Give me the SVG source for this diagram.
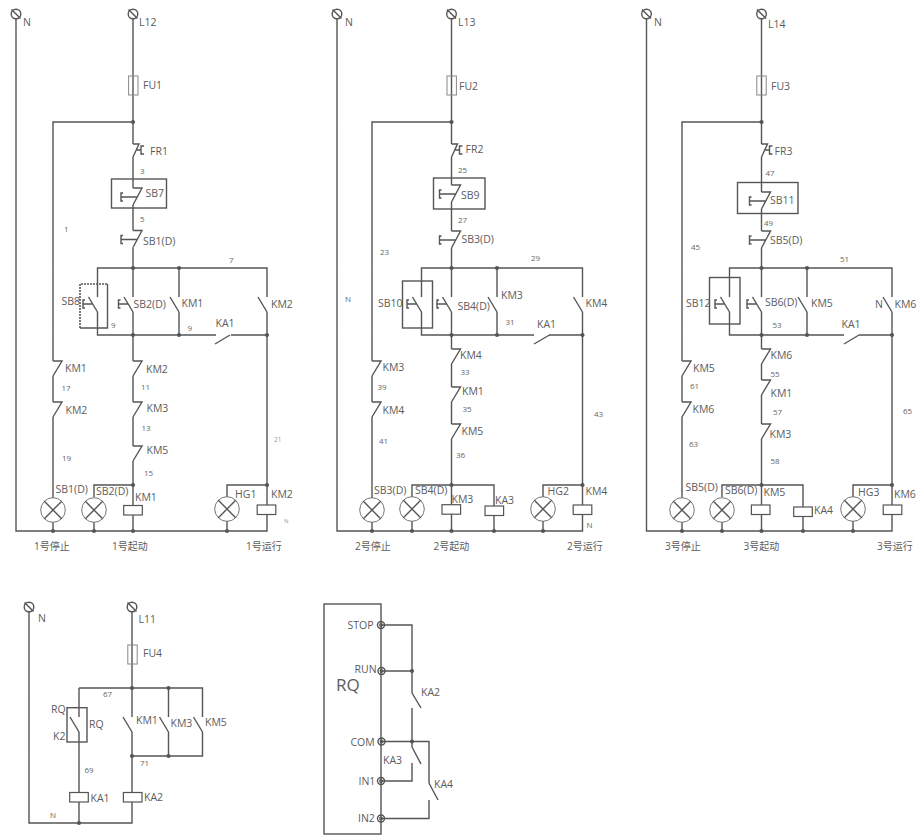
<svg xmlns="http://www.w3.org/2000/svg" width="919" height="837" viewBox="0 0 919 837">
<style>
text{font-family:"Open Sans","Noto Sans CJK SC",sans-serif;fill:#5c5c5c}
.t{font-size:10.5px}
.n{font-size:8px;fill:#666}
.b{font-size:17px}
.c{font-size:10px}
.w,.s{fill:none;stroke:#555;stroke-width:1.4}
.f{fill:none;stroke:#888;stroke-width:1}
.k{fill:none;stroke:#555;stroke-width:1.2}
.l{fill:none;stroke:#777;stroke-width:1}
.d{fill:#555;stroke:none}
.o{fill:none;stroke:#555;stroke-width:1.6;stroke-dasharray:2 1}
</style>
<defs>
<g id="term"><circle r="4.8" class="s"/><path d="M-4.5,-4.5L4.5,4.5" class="s"/></g>
<g id="nc"><path d="M0,0H9L0,15" class="s"/></g>
<g id="no"><path d="M-9,0L0,15" class="s"/></g>
<g id="pbnc"><path d="M0,0H9L0,17M-12,9H4M-10,5H-12V13H-10" class="s"/></g>
<g id="pbno"><path d="M-9,0L0,15M-14.500,7H-5M-12.500,3H-14.500V11H-12.500" class="s"/></g>
<g id="fr"><path d="M0,0H6L0,13M11,2H8V6H3M8,6V10H11" class="s"/></g>
<g id="fuse"><rect x="-4.700" y="0" width="9.400" height="19" class="f"/></g>
<g id="coil"><rect x="-9.300" y="0" width="18.600" height="9.500" class="k"/></g>
<g id="lamp"><circle r="12.300" class="l"/><path d="M-8.700,-8.700L8.700,8.700M-8.700,8.700L8.700,-8.700" class="s"/></g>
<g id="port"><circle r="3.500" class="s"/><circle r="1.300" class="k"/></g>
<circle id="dot" r="2.100" class="d"/>
</defs>

<g id="connectors">
<path class="w" d="M16,19V531H267V514M133,19V144M133,157V188M133,205V230.500M133,247.500V297M133,312V361M133,376V402M133,417V446M133,461V505.500M133,515V531M133,122H53V361M53,376V402M53,417V498M53,522V531M97.500,297V268H267V297M267,312V505M179,268V297M179,312V335M97.500,312V335H216M231,335H267M133,485H94V497M94,522V531M267,485H227V497M227,521V531"/>
<path class="w" d="M337,19V531H582.500V514M451.500,19V144M451.500,157V185M451.500,202V231M451.500,248V297M451.500,312V349M451.500,364V387M451.500,402V424M451.500,439V505M451.500,514V531M451.500,122H372V361M372,376V402M372,417V498M372,522V531M421.500,297V268H582.500V297M582.500,312V505M497,268V297M497,312V335M421.500,312V335H534M549,335H582.500M451.500,485H412V497M412,521V531M451.500,485H494V506M494,515V531M582.500,485H543V497M543,521V531"/>
<path class="w" d="M646.500,19V531H892V514M761.500,19V144M761.500,157V192M761.500,209V231M761.500,248V297M761.500,312V349M761.500,364V380M761.500,395V424M761.500,439V505M761.500,515V531M761.500,122H682V361M682,376V402M682,417V498M682,522V531M729.500,297V268H892V297M892,312V505M807,268V297M807,312V335M729.500,312V335H844M859,335H892M761.500,485H722V497M722,522V531M761.500,485H803V507M803,516V531M892,485H853V497M853,521V531"/>
<path class="w" d="M29,612V823H132V802M132,612V717M132,732V792.500M79,688V717M79,732V792.500M79,802V823M79,688H202.500V717M168.500,688V717M168.500,732V756M202.500,732V756H132"/>
<path class="w" d="M381,625H412V693M412,708V741.500M381,671H412M381,741.500H429V783M429,800V818.500H381M412,741.500V747M412,763V781H381"/>
<g>
<use href="#dot" x="133" y="122"/><use href="#dot" x="133" y="268"/><use href="#dot" x="179" y="268"/><use href="#dot" x="133" y="335"/><use href="#dot" x="179" y="335"/><use href="#dot" x="267" y="335"/><use href="#dot" x="133" y="485"/><use href="#dot" x="267" y="485"/><use href="#dot" x="53" y="531"/><use href="#dot" x="94" y="531"/><use href="#dot" x="133" y="531"/><use href="#dot" x="227" y="531"/>
<use href="#dot" x="451.500" y="122"/><use href="#dot" x="451.500" y="268"/><use href="#dot" x="497" y="268"/><use href="#dot" x="451.500" y="335"/><use href="#dot" x="497" y="335"/><use href="#dot" x="582.500" y="335"/><use href="#dot" x="451.500" y="485"/><use href="#dot" x="582.500" y="485"/><use href="#dot" x="372" y="531"/><use href="#dot" x="412" y="531"/><use href="#dot" x="451.500" y="531"/><use href="#dot" x="494" y="531"/><use href="#dot" x="543" y="531"/>
<use href="#dot" x="761.500" y="122"/><use href="#dot" x="761.500" y="268"/><use href="#dot" x="807" y="268"/><use href="#dot" x="761.500" y="335"/><use href="#dot" x="807" y="335"/><use href="#dot" x="892" y="335"/><use href="#dot" x="761.500" y="485"/><use href="#dot" x="892" y="485"/><use href="#dot" x="682" y="531"/><use href="#dot" x="722" y="531"/><use href="#dot" x="761.500" y="531"/><use href="#dot" x="803" y="531"/><use href="#dot" x="853" y="531"/>
<use href="#dot" x="132" y="688"/><use href="#dot" x="168.500" y="688"/><use href="#dot" x="132" y="756"/><use href="#dot" x="168.500" y="756"/><use href="#dot" x="79" y="823"/>
<use href="#dot" x="412" y="671"/><use href="#dot" x="412" y="741.500"/>
</g>
</g>

<g id="panel1">
<g id="p1-N"><use href="#term" x="16" y="14"/><text class="t" x="23" y="26">N</text></g>
<g id="p1-L12"><use href="#term" x="133" y="14"/><text class="t" x="139" y="26">L12</text></g>
<g id="p1-FU1"><use href="#fuse" x="133.300" y="76"/><text class="t" x="143" y="89">FU1</text></g>
<g id="p1-FR1"><use href="#fr" x="133" y="144"/><text class="t" x="150" y="155">FR1</text></g>
<g id="p1-SB7"><rect x="111.500" y="179" width="55" height="29" class="s"/><use href="#pbnc" x="133" y="188"/><text class="t" x="145.500" y="197">SB7</text></g>
<g id="p1-SB1D"><use href="#pbnc" x="133" y="230.500"/><text class="t" x="143" y="245">SB1(D)</text></g>
<g id="p1-SB8"><path d="M80,328V284H107.500" class="o"/><path d="M107.500,284V328H80" class="s"/><use href="#pbno" x="97.500" y="297"/><text class="t" x="61.500" y="305">SB8</text></g>
<g id="p1-SB2D"><use href="#pbno" x="133" y="297"/><text class="t" x="133.500" y="308">SB2(D)</text></g>
<g id="p1-KM1a"><use href="#no" x="179" y="297"/><text class="t" x="181.500" y="307">KM1</text></g>
<g id="p1-KM2a"><use href="#no" x="267" y="297"/><text class="t" x="271" y="308">KM2</text></g>
<g id="p1-KA1"><path d="M215,344L230,335" class="s"/><text class="t" x="215.500" y="327">KA1</text></g>
<g id="p1-KM1b"><use href="#nc" x="53" y="361"/><text class="t" x="65" y="372">KM1</text></g>
<g id="p1-KM2b"><use href="#nc" x="53" y="402"/><text class="t" x="65.500" y="414">KM2</text></g>
<g id="p1-KM2c"><use href="#nc" x="133" y="361"/><text class="t" x="146" y="373">KM2</text></g>
<g id="p1-KM3"><use href="#nc" x="133" y="402"/><text class="t" x="146.500" y="412">KM3</text></g>
<g id="p1-KM5"><use href="#nc" x="133" y="446"/><text class="t" x="146.500" y="454">KM5</text></g>
<g id="p1-lamp1"><use href="#lamp" x="53" y="510"/><text class="t" x="55.500" y="493">SB1(D)</text></g>
<g id="p1-lamp2"><use href="#lamp" x="94" y="510"/><text class="t" x="96" y="495">SB2(D)</text></g>
<g id="p1-coil1"><use href="#coil" x="133" y="505.500"/><text class="t" x="135" y="501">KM1</text></g>
<g id="p1-HG1"><use href="#lamp" x="227" y="509"/><text class="t" x="235" y="498">HG1</text></g>
<g id="p1-coil2"><use href="#coil" x="266.500" y="505"/><text class="t" x="271" y="498">KM2</text></g>
<g id="p1-labels">
<text class="n" x="140" y="174">3</text><text class="n" x="140" y="222">5</text><text class="n" x="64" y="232">1</text><text class="n" x="229" y="263">7</text><text class="n" x="111" y="328">9</text><text class="n" x="187.500" y="331">9</text><text class="n" x="61.500" y="391">17</text><text class="n" x="62" y="461">19</text><text class="n" x="141" y="390">11</text><text class="n" x="141.500" y="431">13</text><text class="n" x="144" y="476">15</text><text class="n" x="274" y="442" style="font-size:6.500px;fill:#999">21</text><text class="n" x="284" y="523" style="font-size:6px;fill:#999">N</text>
<text class="c" x="34" y="550">1号停止</text><text class="c" x="112" y="550">1号起动</text><text class="c" x="246" y="550">1号运行</text>
</g>
</g>

<g id="panel2">
<g id="p2-N"><use href="#term" x="337" y="14"/><text class="t" x="345" y="26">N</text></g>
<g id="p2-L13"><use href="#term" x="451.500" y="14"/><text class="t" x="458" y="26">L13</text></g>
<g id="p2-FU2"><use href="#fuse" x="451.700" y="76"/><text class="t" x="459" y="90">FU2</text></g>
<g id="p2-FR2"><use href="#fr" x="451.500" y="144"/><text class="t" x="465.500" y="153">FR2</text></g>
<g id="p2-SB9"><rect x="433.500" y="178" width="51.500" height="31" class="s"/><use href="#pbnc" x="451.500" y="185"/><text class="t" x="461" y="199">SB9</text></g>
<g id="p2-SB3D"><use href="#pbnc" x="451.500" y="231"/><text class="t" x="461.500" y="243">SB3(D)</text></g>
<g id="p2-SB10"><rect x="402.500" y="281" width="30" height="47" class="s"/><use href="#pbno" x="421.500" y="297"/><text class="t" x="378" y="307">SB10</text></g>
<g id="p2-SB4D"><use href="#pbno" x="451.500" y="297"/><text class="t" x="457.500" y="310">SB4(D)</text></g>
<g id="p2-KM3a"><use href="#no" x="497" y="297"/><text class="t" x="501" y="299">KM3</text></g>
<g id="p2-KM4a"><use href="#no" x="582.500" y="297"/><text class="t" x="585.500" y="307">KM4</text></g>
<g id="p2-KA1"><path d="M534,344L549.500,335" class="s"/><text class="t" x="537" y="328">KA1</text></g>
<g id="p2-KM3b"><use href="#nc" x="372" y="361"/><text class="t" x="382.500" y="371">KM3</text></g>
<g id="p2-KM4b"><use href="#nc" x="372" y="402"/><text class="t" x="382.500" y="414">KM4</text></g>
<g id="p2-KM4c"><use href="#nc" x="451.500" y="349"/><text class="t" x="460" y="359">KM4</text></g>
<g id="p2-KM1"><use href="#nc" x="451.500" y="387"/><text class="t" x="462" y="395">KM1</text></g>
<g id="p2-KM5"><use href="#nc" x="451.500" y="424"/><text class="t" x="461.500" y="435">KM5</text></g>
<g id="p2-lamp1"><use href="#lamp" x="372" y="510"/><text class="t" x="374" y="494">SB3(D)</text></g>
<g id="p2-lamp2"><use href="#lamp" x="412" y="509"/><text class="t" x="415" y="494">SB4(D)</text></g>
<g id="p2-coil1"><use href="#coil" x="451.300" y="504.700"/><text class="t" x="451.500" y="503">KM3</text></g>
<g id="p2-coil2"><use href="#coil" x="494.300" y="506"/><text class="t" x="495" y="504">KA3</text></g>
<g id="p2-HG2"><use href="#lamp" x="543" y="509"/><text class="t" x="547.500" y="495">HG2</text></g>
<g id="p2-coil3"><use href="#coil" x="582.500" y="505"/><text class="t" x="585.500" y="495">KM4</text></g>
<g id="p2-labels">
<text class="n" x="458" y="173">25</text><text class="n" x="458" y="223">27</text><text class="n" x="380" y="255">23</text><text class="n" x="531" y="261">29</text><text class="n" x="345" y="302">N</text><text class="n" x="505.500" y="325">31</text><text class="n" x="377.500" y="390">39</text><text class="n" x="379" y="444">41</text><text class="n" x="460.500" y="375">33</text><text class="n" x="462.500" y="412">35</text><text class="n" x="456" y="458">36</text><text class="n" x="594" y="417">43</text><text class="n" x="586.500" y="528">N</text>
<text class="c" x="355" y="550">2号停止</text><text class="c" x="433.500" y="550">2号起动</text><text class="c" x="567" y="550">2号运行</text>
</g>
</g>

<g id="panel3">
<g id="p3-N"><use href="#term" x="646.500" y="14"/><text class="t" x="654" y="26">N</text></g>
<g id="p3-L14"><use href="#term" x="761.500" y="14"/><text class="t" x="768" y="28">L14</text></g>
<g id="p3-FU3"><use href="#fuse" x="761.500" y="76"/><text class="t" x="771" y="90">FU3</text></g>
<g id="p3-FR3"><use href="#fr" x="761.500" y="144"/><text class="t" x="774.500" y="155">FR3</text></g>
<g id="p3-SB11"><rect x="737.500" y="182.500" width="60.500" height="31" class="s"/><use href="#pbnc" x="761.500" y="192"/><text class="t" x="770" y="204">SB11</text></g>
<g id="p3-SB5D"><use href="#pbnc" x="761.500" y="231"/><text class="t" x="770" y="244">SB5(D)</text></g>
<g id="p3-SB12"><rect x="709.500" y="277.500" width="30.500" height="46.500" class="s"/><use href="#pbno" x="729.500" y="297"/><text class="t" x="686" y="307">SB12</text></g>
<g id="p3-SB6D"><use href="#pbno" x="761.500" y="297"/><text class="t" x="765" y="306">SB6(D)</text></g>
<g id="p3-KM5a"><use href="#no" x="807" y="297"/><text class="t" x="811" y="307">KM5</text></g>
<g id="p3-KM6a"><use href="#no" x="892" y="297"/><text class="t" x="875" y="308">N</text><text class="t" x="894.500" y="308">KM6</text></g>
<g id="p3-KA1"><path d="M844,344L859,335" class="s"/><text class="t" x="841.500" y="328">KA1</text></g>
<g id="p3-KM5b"><use href="#nc" x="682" y="361"/><text class="t" x="693" y="372">KM5</text></g>
<g id="p3-KM6b"><use href="#nc" x="682" y="402"/><text class="t" x="692.500" y="413">KM6</text></g>
<g id="p3-KM6c"><use href="#nc" x="761.500" y="349"/><text class="t" x="770.500" y="359">KM6</text></g>
<g id="p3-KM1"><use href="#nc" x="761.500" y="380"/><text class="t" x="770.500" y="397">KM1</text></g>
<g id="p3-KM3"><use href="#nc" x="761.500" y="424"/><text class="t" x="769.500" y="438">KM3</text></g>
<g id="p3-lamp1"><use href="#lamp" x="682" y="510"/><text class="t" x="685.500" y="491">SB5(D)</text></g>
<g id="p3-lamp2"><use href="#lamp" x="722" y="510"/><text class="t" x="725" y="494">SB6(D)</text></g>
<g id="p3-coil1"><use href="#coil" x="760.700" y="505"/><text class="t" x="763.500" y="496">KM5</text></g>
<g id="p3-coil2"><use href="#coil" x="803" y="507"/><text class="t" x="814" y="514">KA4</text></g>
<g id="p3-HG3"><use href="#lamp" x="853" y="509"/><text class="t" x="858" y="496">HG3</text></g>
<g id="p3-coil3"><use href="#coil" x="892.500" y="505"/><text class="t" x="894" y="498">KM6</text></g>
<g id="p3-labels">
<text class="n" x="765.500" y="176">47</text><text class="n" x="764" y="226">49</text><text class="n" x="691" y="250">45</text><text class="n" x="840" y="262">51</text><text class="n" x="772.500" y="328">53</text><text class="n" x="690" y="389">61</text><text class="n" x="689" y="447">63</text><text class="n" x="770.500" y="377">55</text><text class="n" x="773" y="415">57</text><text class="n" x="770.500" y="464">58</text><text class="n" x="903" y="414">65</text>
<text class="c" x="665" y="550">3号停止</text><text class="c" x="743.500" y="550">3号起动</text><text class="c" x="877" y="550">3号运行</text>
</g>
</g>

<g id="panel4">
<g id="p4-N"><use href="#term" x="29" y="607"/><text class="t" x="38" y="622">N</text></g>
<g id="p4-L11"><use href="#term" x="132" y="607"/><text class="t" x="138.500" y="623">L11</text></g>
<g id="p4-FU4"><use href="#fuse" x="132.500" y="645"/><text class="t" x="143" y="657">FU4</text></g>
<g id="p4-RQ"><rect x="67" y="707.700" width="20" height="34.300" class="s"/><use href="#no" x="79" y="717"/><text class="t" x="51" y="713">RQ</text><text class="t" x="53" y="740">K2</text><text class="t" x="89" y="728">RQ</text></g>
<g id="p4-KM1"><use href="#no" x="132" y="717"/><text class="t" x="136" y="724">KM1</text></g>
<g id="p4-KM3"><use href="#no" x="168.500" y="717"/><text class="t" x="170.500" y="727">KM3</text></g>
<g id="p4-KM5"><use href="#no" x="202.500" y="717"/><text class="t" x="205" y="726">KM5</text></g>
<g id="p4-KA1"><use href="#coil" x="79" y="792.500"/><text class="t" x="90.500" y="802">KA1</text></g>
<g id="p4-KA2"><use href="#coil" x="132.700" y="792.500"/><text class="t" x="144" y="801">KA2</text></g>
<g id="p4-labels"><text class="n" x="103" y="697">67</text><text class="n" x="140" y="766">71</text><text class="n" x="84.500" y="773">69</text><text class="n" x="50" y="818">N</text></g>
</g>

<g id="panel5">
<g id="rq-block"><rect x="324" y="604" width="57" height="230" class="s"/><text class="b" x="336" y="691">RQ</text></g>
<g id="rq-stop"><use href="#port" x="381" y="625"/><text class="t" x="347.500" y="629">STOP</text></g>
<g id="rq-run"><use href="#port" x="381.500" y="671"/><text class="t" x="354.500" y="673">RUN</text></g>
<g id="rq-com"><use href="#port" x="381.500" y="741.500"/><text class="t" x="350.500" y="746">COM</text></g>
<g id="rq-in1"><use href="#port" x="381" y="781"/><text class="t" x="358.500" y="785">IN1</text></g>
<g id="rq-in2"><use href="#port" x="381" y="818.500"/><text class="t" x="358" y="822">IN2</text></g>
<g id="rq-KA2"><path d="M412,693L421,708" class="s"/><text class="t" x="421" y="696">KA2</text></g>
<g id="rq-KA3"><path d="M412,747L421,764" class="s"/><text class="t" x="383" y="764">KA3</text></g>
<g id="rq-KA4"><path d="M429,783L438,800" class="s"/><text class="t" x="434" y="788">KA4</text></g>
</g>
</svg>
